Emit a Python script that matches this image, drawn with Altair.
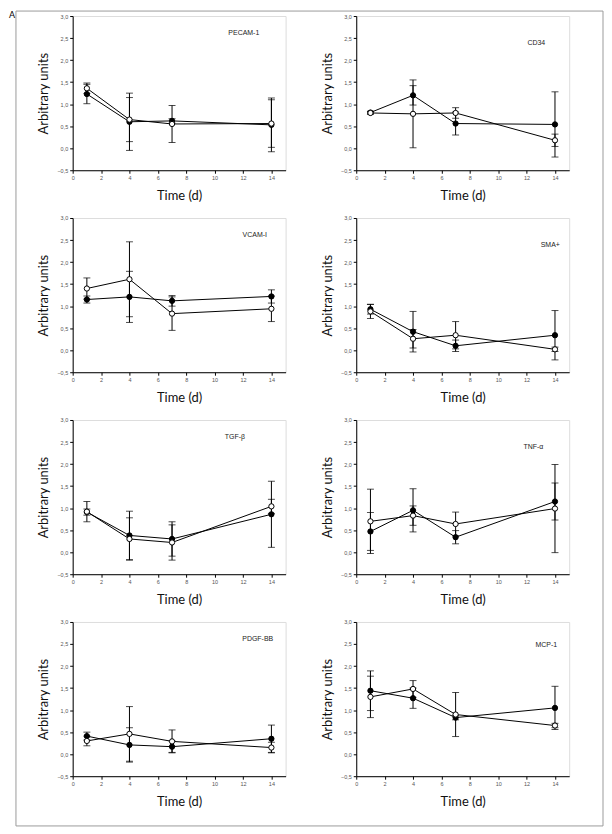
import altair as alt
import pandas as pd

panels = ["PECAM-1", "CD34", "VCAM-I", "SMA+", "TGF-β", "TNF-α", "PDGF-BB", "MCP-1"]
days = [1, 4, 7, 14]

pecam_filled = [1.23, 0.60, 0.62, 0.53]
pecam_filled_err = [0.22, 0.65, 0.05, 0.61]
pecam_open = [1.36, 0.65, 0.55, 0.56]
pecam_open_err = [0.12, 0.50, 0.42, 0.54]

cd34_filled = [0.81, 1.20, 0.56, 0.54]
cd34_filled_err = [0.03, 0.22, 0.26, 0.74]
cd34_open = [0.80, 0.78, 0.80, 0.18]
cd34_open_err = [0.03, 0.77, 0.12, 0.14]

vcam_filled = [1.15, 1.21, 1.12, 1.22]
vcam_filled_err = [0.08, 0.58, 0.12, 0.15]
vcam_open = [1.40, 1.61, 0.83, 0.94]
vcam_open_err = [0.24, 0.85, 0.38, 0.29]

sma_filled = [0.93, 0.42, 0.10, 0.34]
sma_filled_err = [0.11, 0.46, 0.13, 0.56]
sma_open = [0.88, 0.26, 0.34, 0.02]
sma_open_err = [0.16, 0.21, 0.31, 0.05]

tgf_filled = [0.91, 0.38, 0.30, 0.86]
tgf_filled_err = [0.07, 0.55, 0.39, 0.75]
tgf_open = [0.92, 0.30, 0.22, 1.04]
tgf_open_err = [0.23, 0.48, 0.40, 0.16]

tnf_filled = [0.47, 0.95, 0.34, 1.15]
tnf_filled_err = [0.43, 0.49, 0.15, 0.42]
tnf_open = [0.70, 0.83, 0.64, 0.99]
tnf_open_err = [0.73, 0.22, 0.27, 1.00]

pdgf_filled = [0.41, 0.21, 0.17, 0.35]
pdgf_filled_err = [0.09, 0.39, 0.13, 0.31]
pdgf_open = [0.30, 0.46, 0.29, 0.15]
pdgf_open_err = [0.11, 0.62, 0.26, 0.12]

mcp_filled = [1.44, 1.27, 0.83, 1.05]
mcp_filled_err = [0.45, 0.23, 0.05, 0.49]
mcp_open = [1.30, 1.48, 0.90, 0.65]
mcp_open_err = [0.47, 0.19, 0.50, 0.05]

y_ticks = [-0.5, 0.0, 0.5, 1.0, 1.5, 2.0, 2.5, 3.0]
x_ticks = [0, 2, 4, 6, 8, 10, 12, 14]

series_data = [
    (pecam_filled, pecam_filled_err, pecam_open, pecam_open_err),
    (cd34_filled, cd34_filled_err, cd34_open, cd34_open_err),
    (vcam_filled, vcam_filled_err, vcam_open, vcam_open_err),
    (sma_filled, sma_filled_err, sma_open, sma_open_err),
    (tgf_filled, tgf_filled_err, tgf_open, tgf_open_err),
    (tnf_filled, tnf_filled_err, tnf_open, tnf_open_err),
    (pdgf_filled, pdgf_filled_err, pdgf_open, pdgf_open_err),
    (mcp_filled, mcp_filled_err, mcp_open, mcp_open_err),
]

# label placement inside each panel (pixels from the plot's top-left corner)
label_pos = [(172, 17), (181, 27), (183, 17), (195, 27),
             (163, 17), (178, 27), (186, 17), (191, 23)]

W, H = 214, 155
FONT = "Lato"


def make_df(fm, fe, om, oe):
    rows = []
    for s, m, e in (("filled", fm, fe), ("open", om, oe)):
        for d, v, err in zip(days, m, e):
            rows.append({"day": d, "value": v, "lo": v - err, "hi": v + err, "series": s})
    return pd.DataFrame(rows)


xs = alt.Scale(domain=[0, 15], nice=False)
ys = alt.Scale(domain=[-0.5, 3.0], nice=False)

x_axis = alt.Axis(values=x_ticks, tickCount=20, title="Time (d)", grid=False, tickSize=3,
                  labelFontSize=5.5, labelColor="#555", labelPadding=2,
                  labelOverlap=False, labelFont="Liberation Sans",
                  titleFontSize=13, titleFontWeight="normal", titleFont=FONT,
                  titleColor="#111", titlePadding=9, domainColor="black",
                  tickColor="black", labelFlush=False)
y_axis = alt.Axis(values=y_ticks, tickCount=20, title="Arbitrary units", grid=False, tickSize=3,
                  labelExpr="replace(format(datum.value, '.1f'), '.', ',')",
                  labelFontSize=5.5, labelColor="#555", labelPadding=2,
                  labelOverlap=False, labelFont="Liberation Sans",
                  titleFontSize=13, titleFontWeight="normal", titleFont=FONT,
                  titleColor="#111", titlePadding=6, domainColor="black",
                  tickColor="black", labelFlush=False)


def panel(i):
    df = make_df(*series_data[i])
    base = alt.Chart(df)
    X = alt.X("day:Q", scale=xs, axis=x_axis)
    Y = alt.Y("value:Q", scale=ys, axis=y_axis)
    rules = base.mark_rule(color="black", strokeWidth=1).encode(
        x=alt.X("day:Q", scale=xs, axis=x_axis), y=alt.Y("lo:Q", scale=ys, axis=y_axis), y2="hi:Q")
    cap_lo = base.mark_tick(color="black", orient="horizontal", size=7, thickness=1).encode(
        x="day:Q", y="lo:Q")
    cap_hi = base.mark_tick(color="black", orient="horizontal", size=7, thickness=1).encode(
        x="day:Q", y="hi:Q")
    lines = base.mark_line(color="black", strokeWidth=1).encode(x=X, y=Y, detail="series:N")
    pts = base.mark_point(shape="circle", filled=True, stroke="black", strokeWidth=1,
                          size=28, opacity=1).encode(
        x="day:Q", y="value:Q",
        fill=alt.Fill("series:N", scale=alt.Scale(domain=["filled", "open"], range=["black", "white"]),
                      legend=None),
        order=alt.Order("series:N"))
    lx, ly = label_pos[i]
    lab = alt.Chart(pd.DataFrame({"t": [panels[i]]})).mark_text(
        font="Liberation Sans", fontSize=7, color="#222", align="center", baseline="middle").encode(
        x=alt.value(lx), y=alt.value(ly), text="t:N")
    layers = [rules, cap_lo, cap_hi, lines, pts, lab]
    if i == 0:
        frame = alt.Chart(pd.DataFrame({"t": ["frame"]})).mark_rect(
            fill="white", fillOpacity=0, stroke="#9a9a9a", strokeWidth=1).encode(
            x=alt.value(-57), x2=alt.value(533), y=alt.value(-5), y2=alt.value(814))
        letter = alt.Chart(pd.DataFrame({"t": ["A"]})).mark_text(
            font=FONT, fontSize=9, color="black", align="left", baseline="top").encode(
            x=alt.value(-64), y=alt.value(-5), text="t:N")
        layers = [frame, letter] + layers
    return alt.layer(*layers).properties(width=W, height=H)


chart = alt.concat(*[panel(i) for i in range(8)], columns=2,
                   spacing={"row": 48, "column": 71}, bounds="flush").properties(
    padding={"left": 0, "top": 0, "right": 0, "bottom": 0}
).configure_view(stroke="black", strokeWidth=1).configure(font=FONT)

chart.save("out.html", embed_options={"renderer": "svg", "actions": False})
